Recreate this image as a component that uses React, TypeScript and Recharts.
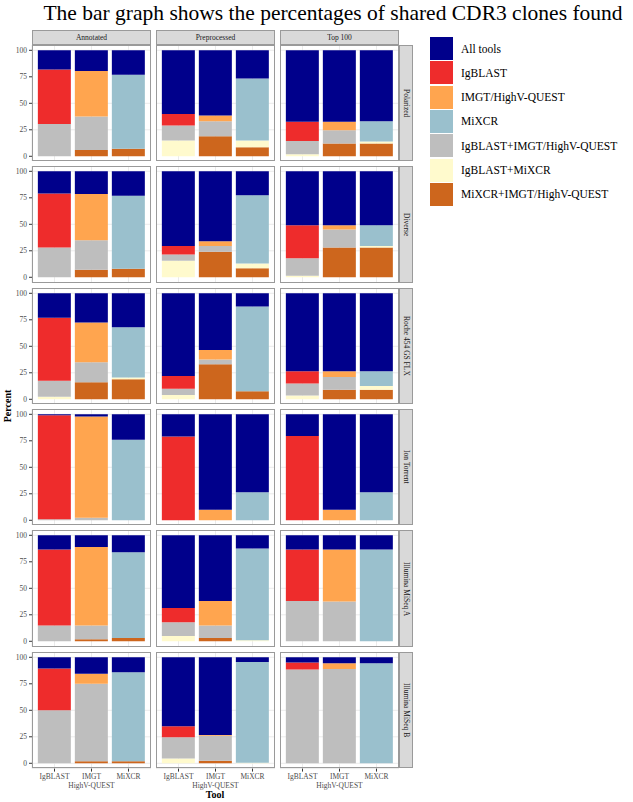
import { BarChart, Bar, XAxis, YAxis, CartesianGrid } from 'recharts';

const TOOLS = ['IgBLAST', 'IMGT\nHighV-QUEST', 'MiXCR'];
const CONDITIONS = ['Annotated', 'Preprocessed', 'Top 100'];
const DATASETS = [
  'Polarized',
  'Diverse',
  'Roche 454 GS FLX',
  'Ion Torrent',
  'Illumina MiSeq A',
  'Illumina MiSeq B',
];
const Y_TICKS = [0, 25, 50, 75, 100];

// percent per dataset -> condition -> [IgBLAST, IMGT/HighV-QUEST, MiXCR]
const ALL_TOOLS = [
  [[18, 19.5, 23], [60, 61.5, 26.5], [67.5, 67.5, 67]],
  [[21, 21.5, 23], [70.5, 66, 22.5], [51, 51, 51]],
  [[23, 27.5, 32], [78, 53.5, 12.5], [73.5, 73.5, 73.5]],
  [[1, 2, 24], [21, 90, 73.5], [20.5, 90, 73.5]],
  [[13.5, 11, 16], [68.5, 62, 12.5], [13.5, 13.5, 13.5]],
  [[10.5, 15.5, 14], [65, 73.4, 4.5], [5, 5.5, 5.5]],
];
const IGBLAST = [
  [[51.5, 0, 0], [11, 0, 0], [18, 0, 0]],
  [[51, 0, 0], [8, 0, 0], [31, 0, 0]],
  [[59.5, 0, 0], [12, 0, 0], [11.5, 0, 0]],
  [[98, 0, 0], [79, 0, 0], [79.5, 0, 0]],
  [[71.5, 0, 0], [13.5, 0, 0], [48.5, 0, 0]],
  [[39.5, 0, 0], [10.5, 0, 0], [6.5, 0, 0]],
];
const IMGT = [
  [[0, 43, 0], [0, 5.5, 0], [0, 8, 0]],
  [[0, 43.5, 0], [0, 4.5, 0], [0, 4, 0]],
  [[0, 37.5, 0], [0, 9, 0], [0, 5.5, 0]],
  [[0, 95.5, 0], [0, 10, 0], [0, 10, 0]],
  [[0, 74, 0], [0, 23, 0], [0, 49, 0]],
  [[0, 9.5, 0], [0, 0.6, 0], [0, 5.5, 0]],
];
const MIXCR = [
  [[0, 0, 70], [0, 0, 58.5], [0, 0, 19]],
  [[0, 0, 69], [0, 0, 64.5], [0, 0, 19.5]],
  [[0, 0, 47.5], [0, 0, 80], [0, 0, 14]],
  [[0, 0, 76], [0, 0, 26.5], [0, 0, 26.5]],
  [[0, 0, 81], [0, 0, 86.5], [0, 0, 86.5]],
  [[0, 0, 84], [0, 0, 95], [0, 0, 94.5]],
];
const IGBLAST_IMGT = [
  [[30.5, 31.5, 0], [14, 14, 0], [12.5, 12.5, 0]],
  [[28, 28, 0], [6, 5.5, 0], [16.5, 17, 0]],
  [[15, 19, 0], [6, 4.5, 0], [11.5, 12, 0]],
  [[1, 2.5, 0], [0, 0, 0], [0, 0, 0]],
  [[15, 13, 0], [13, 12, 0], [38, 37.5, 0]],
  [[50, 73, 0], [20, 23.5, 0], [88.5, 89, 0]],
];
const IGBLAST_MIXCR = [
  [[0, 0, 0], [15, 0, 6.5], [2, 0, 2]],
  [[0, 0, 0], [15.5, 0, 4.5], [1.5, 0, 1.5]],
  [[2.5, 0, 1.5], [4, 0, 0], [3.5, 0, 3.5]],
  [[0, 0, 0], [0, 0, 0], [0, 0, 0]],
  [[0, 0, 0], [5, 0, 1], [0, 0, 0]],
  [[0, 0, 0], [4.5, 0, 0.5], [0, 0, 0]],
];
const MIXCR_IMGT = [
  [[0, 6, 7], [0, 19, 8.5], [0, 12, 12]],
  [[0, 7, 8], [0, 24, 8.5], [0, 28, 28]],
  [[0, 16, 19], [0, 33, 7.5], [0, 9, 9]],
  [[0, 0, 0], [0, 0, 0], [0, 0, 0]],
  [[0, 2, 3], [0, 3, 0], [0, 0, 0]],
  [[0, 2, 2], [0, 2.5, 0], [0, 0, 0]],
];

// legend order (top of stack first)
const SERIES = [
  { key: 'all', name: 'All tools', color: '#00008B', values: ALL_TOOLS },
  { key: 'igblast', name: 'IgBLAST', color: '#EE2C2C', values: IGBLAST },
  { key: 'imgt', name: 'IMGT/HighV-QUEST', color: '#FFA54F', values: IMGT },
  { key: 'mixcr', name: 'MiXCR', color: '#9AC0CD', values: MIXCR },
  { key: 'igImgt', name: 'IgBLAST+IMGT/HighV-QUEST', color: '#BEBEBE', values: IGBLAST_IMGT },
  { key: 'igMixcr', name: 'IgBLAST+MiXCR', color: '#FFFACD', values: IGBLAST_MIXCR },
  { key: 'mixcrImgt', name: 'MiXCR+IMGT/HighV-QUEST', color: '#CD661D', values: MIXCR_IMGT },
];

const FONT = '"Liberation Serif", "DejaVu Serif", serif';
const COL_X = [32, 156, 280];
const PANEL_W = 119;
const PANEL_H = 116.6;
const TOP0 = 44.7;
const ROW_STEP = 121.4;
const Y_AXIS_W = 32;
const X_AXIS_H = 30;
const STRIP_FILL = '#d9d9d9';
const BORDER = '#9a9a9a';

const rowTop = (r: number) => TOP0 + r * ROW_STEP;

function ToolTick(props: any) {
  const { x, y, payload } = props;
  const lines = String(payload.value).split('\n');
  return (
    <g transform={`translate(${x},${y})`}>
      <text textAnchor="middle" fill="#4d4d4d" fontSize={7.5} fontFamily={FONT}>
        {lines.map((line, i) => (
          <tspan key={i} x={0} dy={i === 0 ? '0.71em' : 9}>
            {line}
          </tspan>
        ))}
      </text>
    </g>
  );
}

function Panel({ row, col }: { row: number; col: number }) {
  const data = TOOLS.map((tool, t) => {
    const d: Record<string, number | string> = { tool };
    SERIES.forEach((s) => {
      d[s.key] = s.values[row][col][t];
    });
    return d;
  });
  const showY = col === 0;
  const showX = row === DATASETS.length - 1;
  const width = PANEL_W + (showY ? Y_AXIS_W : 0);
  const height = PANEL_H + (showX ? X_AXIS_H : 0);
  const left = COL_X[col] - (showY ? Y_AXIS_W : 0);

  return (
    <>
      <div style={{ position: 'absolute', left, top: rowTop(row) }}>
        <BarChart
          width={width}
          height={height}
          data={data}
          margin={{ top: 0, right: 0, bottom: 0, left: 0 }}
          barCategoryGap="5%"
        >
          <CartesianGrid stroke="#ebebeb" />
          <XAxis
            dataKey="tool"
            hide={!showX}
            height={X_AXIS_H}
            padding={{ left: 4, right: 4 }}
            axisLine={false}
            tickSize={3}
            tickMargin={2}
            tickLine={{ stroke: '#333' }}
            tick={<ToolTick />}
            interval={0}
          />
          <YAxis
            type="number"
            domain={[-5, 105]}
            ticks={Y_TICKS}
            hide={!showY}
            width={Y_AXIS_W}
            axisLine={false}
            tickSize={3}
            tickMargin={2}
            tickLine={{ stroke: '#333' }}
            tick={{ fontSize: 7.5, fill: '#4d4d4d', fontFamily: FONT }}
          />
          {[...SERIES].reverse().map((s) => (
            <Bar
              key={s.key}
              dataKey={s.key}
              name={s.name}
              stackId="tools"
              fill={s.color}
              isAnimationActive={false}
            />
          ))}
        </BarChart>
      </div>
      <div
        style={{
          position: 'absolute',
          left: COL_X[col],
          top: rowTop(row),
          width: PANEL_W,
          height: PANEL_H,
          border: `1px solid ${BORDER}`,
          boxSizing: 'border-box',
          pointerEvents: 'none',
        }}
      />
    </>
  );
}

export default function App() {
  return (
    <div
      style={{
        position: 'absolute',
        left: 0,
        top: 0,
        width: 633,
        height: 802,
        background: '#fff',
        fontFamily: FONT,
        overflow: 'hidden',
      }}
    >
      <div
        style={{
          position: 'absolute',
          left: 0,
          width: 666,
          top: 0,
          textAlign: 'center',
          fontSize: 21.5,
          lineHeight: '26px',
          color: '#000',
          whiteSpace: 'nowrap',
        }}
      >
        The bar graph shows the percentages of shared CDR3 clones found
      </div>

      {CONDITIONS.map((c, ci) => (
        <div
          key={c}
          style={{
            position: 'absolute',
            left: COL_X[ci],
            top: 30,
            width: PANEL_W,
            height: TOP0 - 30,
            background: STRIP_FILL,
            border: `1px solid ${BORDER}`,
            boxSizing: 'border-box',
            fontSize: 7.5,
            color: '#1a1a1a',
            display: 'flex',
            alignItems: 'center',
            justifyContent: 'center',
          }}
        >
          {c}
        </div>
      ))}

      {DATASETS.map((d, ri) => (
        <div
          key={d}
          style={{
            position: 'absolute',
            left: 399,
            top: rowTop(ri),
            width: 14,
            height: PANEL_H,
            background: STRIP_FILL,
            border: `1px solid ${BORDER}`,
            boxSizing: 'border-box',
            fontSize: 7.5,
            color: '#1a1a1a',
            display: 'flex',
            alignItems: 'center',
            justifyContent: 'center',
            writingMode: 'vertical-rl',
            whiteSpace: 'nowrap',
          }}
        >
          {d}
        </div>
      ))}

      {DATASETS.map((_, ri) =>
        CONDITIONS.map((__, ci) => <Panel key={`${ri}-${ci}`} row={ri} col={ci} />)
      )}

      <div
        style={{
          position: 'absolute',
          left: 7,
          top: 406,
          transform: 'translate(-50%, -50%) rotate(-90deg)',
          fontSize: 10,
          fontWeight: 'bold',
          whiteSpace: 'nowrap',
        }}
      >
        Percent
      </div>
      <div
        style={{
          position: 'absolute',
          left: 215,
          top: 794,
          transform: 'translate(-50%, -50%)',
          fontSize: 10,
          fontWeight: 'bold',
          whiteSpace: 'nowrap',
        }}
      >
        Tool
      </div>

      {SERIES.map((s, i) => (
        <div
          key={s.key}
          style={{
            position: 'absolute',
            left: 430,
            top: 37 + i * 24.3,
            height: 23,
            display: 'flex',
            alignItems: 'center',
          }}
        >
          <div style={{ width: 23, height: 23, background: s.color }} />
          <span style={{ marginLeft: 8, fontSize: 11.5, color: '#000', whiteSpace: 'nowrap' }}>
            {s.name}
          </span>
        </div>
      ))}
    </div>
  );
}
